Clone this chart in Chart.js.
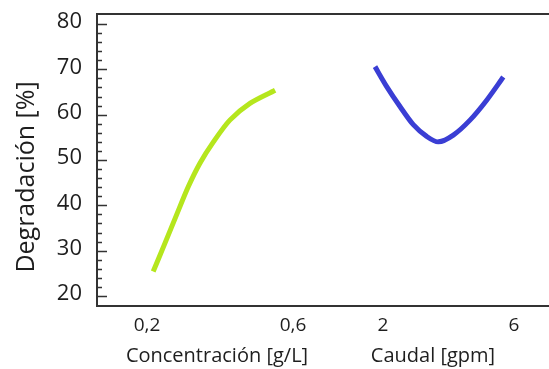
<!DOCTYPE html>
<html>
<head>
<meta charset="utf-8">
<script src="https://cdn.jsdelivr.net/npm/chart.js@4/dist/chart.umd.min.js"></script>
<style>
  html, body { margin: 0; padding: 0; background: #fff; overflow: hidden; }
  #wrap { width: 549px; height: 369px; }
</style>
</head>
<body>
<div id="wrap"><canvas id="chart" width="549" height="369"></canvas></div>
<script>
// Concentración [g/L] vs degradación
const concX = [0.217, 0.249, 0.281, 0.313, 0.345, 0.382, 0.427, 0.482, 0.551];
const concY = [25.4, 31.6, 37.9, 44.1, 49.3, 54.0, 58.8, 62.5, 65.4];

// Caudal [gpm] vs degradación
const flowX = [1.756, 2.113, 2.519, 2.925, 3.334, 3.689, 4.147, 4.656, 5.166, 5.673];
const flowY = [70.6, 66.2, 61.8, 57.8, 55.2, 54.0, 55.5, 58.8, 63.2, 68.3];

// tick labels
const yTicks = [20, 30, 40, 50, 60, 70, 80];
const concTicks = [0.2, 0.6];
const flowTicks = [2, 6];

const FONT = '"Open Sans", "Noto Sans", sans-serif';
const TXT = '#1e1e1e';

const fmt = v => String(v).replace('.', ',');

// frame, inner ticks, tick labels and titles, placed through the scales
const decor = {
  id: 'decor',
  afterDraw(chart) {
    const { ctx, chartArea: a, scales } = chart;
    const y = scales.y;
    ctx.save();
    ctx.strokeStyle = '#333';
    ctx.lineWidth = 2;
    ctx.beginPath();
    ctx.moveTo(chart.width + 2, a.top);
    ctx.lineTo(a.left, a.top);
    ctx.lineTo(a.left, a.bottom);
    ctx.lineTo(chart.width + 2, a.bottom);
    ctx.stroke();

    ctx.lineWidth = 1.5;
    ctx.beginPath();
    for (let v = 20; v <= 80; v += 2) {
      const py = Math.round(y.getPixelForValue(v)) + 0.5;
      const len = v % 10 === 0 ? 10 : 5;
      ctx.moveTo(a.left, py);
      ctx.lineTo(a.left + len, py);
    }
    ctx.stroke();

    ctx.fillStyle = TXT;
    ctx.textBaseline = 'middle';

    ctx.textAlign = 'right';
    ctx.font = '22px ' + FONT;
    yTicks.forEach(v => ctx.fillText(v, a.left - 15, y.getPixelForValue(v) - 2));

    ctx.textAlign = 'center';
    ctx.font = '19px ' + FONT;
    concTicks.forEach(v => ctx.fillText(fmt(v), scales.xc.getPixelForValue(v), a.bottom + 20));
    flowTicks.forEach(v => ctx.fillText(fmt(v), scales.xf.getPixelForValue(v), a.bottom + 20));

    ctx.font = '20px ' + FONT;
    ctx.fillText('Concentración [g/L]', 217, a.bottom + 50);
    ctx.fillText('Caudal [gpm]', 433, a.bottom + 50);

    ctx.font = '25px ' + FONT;
    ctx.translate(27, 177);
    ctx.rotate(-Math.PI / 2);
    ctx.fillText('Degradación [%]', 0, 0);
    ctx.restore();
  }
};

new Chart(document.getElementById('chart'), {
  type: 'line',
  data: {
    datasets: [
      {
        label: 'Concentración',
        data: concX.map((x, i) => ({ x: x, y: concY[i] })),
        xAxisID: 'xc',
        borderColor: 'rgb(181, 230, 29)',
        borderWidth: 5,
        pointRadius: 0,
        tension: 0.3
      },
      {
        label: 'Caudal',
        data: flowX.map((x, i) => ({ x: x, y: flowY[i] })),
        xAxisID: 'xf',
        borderColor: 'rgb(58, 62, 212)',
        borderWidth: 5,
        pointRadius: 0,
        tension: 0.3
      }
    ]
  },
  options: {
    responsive: false,
    animation: false,
    layout: { padding: { left: 97, right: 0, top: 14, bottom: 63 } },
    plugins: { legend: { display: false }, tooltip: { enabled: false } },
    scales: {
      xc: { type: 'linear', display: false, min: 0.06301, max: 1.3014 },
      xf: { type: 'linear', display: false, min: -6.7328, max: 7.0687 },
      y: { type: 'linear', display: false, min: 17.79, max: 82.21 }
    }
  },
  plugins: [decor]
});
</script>
</body>
</html>
